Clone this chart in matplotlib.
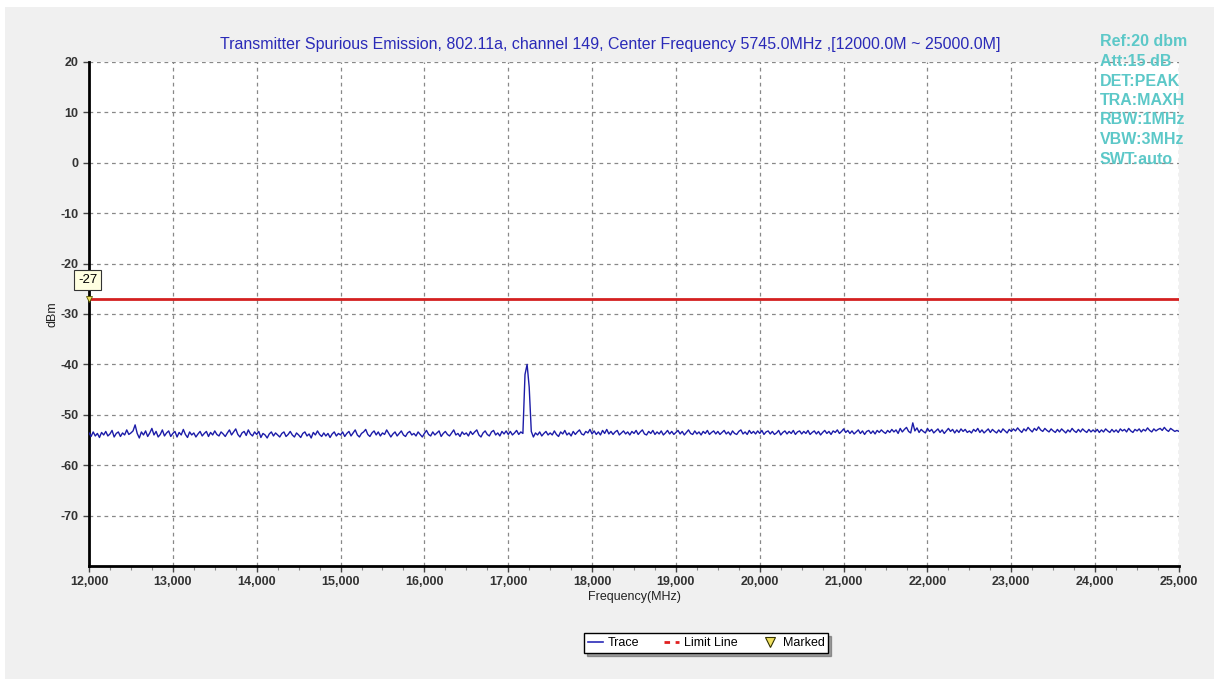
import matplotlib
matplotlib.use('Agg')
from matplotlib import pyplot as plt
from matplotlib.lines import Line2D
from matplotlib.patches import Rectangle
from matplotlib.ticker import MultipleLocator, FuncFormatter
import numpy as np

plt.rcParams['font.family'] = ['Liberation Sans', 'DejaVu Sans']
plt.rcParams['axes.unicode_minus'] = False

# sweep: 12000 ~ 25000 MHz, 25 MHz per point
f_start, f_stop, f_step = 12000.0, 25000.0, 25.0

# trace levels (dBm), one row per 500 MHz
trace_rows = [
    [-53.6, -54.3, -53.4, -54.2, -53.7, -54.5, -53.5, -54.0, -53.3, -54.2, -53.8, -53.1, -54.4, -53.7, -53.4, -54.3, -53.6, -54.0, -53.0, -53.9],
    [-53.6, -53.2, -52.0, -53.7, -54.6, -53.4, -54.0, -53.2, -54.3, -53.6, -52.7, -54.0, -53.3, -54.4, -53.9, -53.0, -54.2, -53.6, -53.2, -54.3],
    [-53.7, -53.3, -54.4, -53.5, -54.0, -52.9, -53.9, -54.5, -53.4, -54.0, -53.6, -54.4, -53.8, -53.3, -54.2, -53.7, -53.3, -54.3, -53.5, -54.0],
    [-53.2, -53.9, -54.2, -53.4, -53.8, -54.3, -53.6, -53.0, -54.0, -53.4, -52.8, -53.9, -54.4, -53.6, -53.3, -54.1, -53.0, -53.8, -54.2, -53.4],
    [-53.9, -53.3, -54.5, -53.7, -54.0, -54.6, -53.8, -53.4, -54.2, -53.6, -54.0, -54.4, -53.7, -53.4, -54.3, -53.9, -53.3, -54.0, -54.4, -53.6],
    [-54.0, -54.5, -53.7, -53.4, -54.2, -53.8, -54.6, -53.5, -54.0, -53.2, -53.9, -54.3, -53.6, -54.2, -53.7, -54.5, -53.8, -53.4, -54.2, -53.7],
    [-54.0, -53.4, -54.3, -53.7, -53.3, -54.2, -53.6, -53.0, -54.0, -54.4, -53.7, -53.4, -52.9, -53.9, -54.3, -53.6, -53.2, -54.0, -53.4, -54.2],
    [-53.6, -53.9, -53.0, -53.7, -54.4, -53.8, -53.4, -54.2, -53.7, -53.2, -54.0, -54.3, -53.6, -53.3, -54.0, -53.7, -54.2, -53.4, -53.9, -54.4],
    [-53.7, -53.1, -53.9, -54.2, -53.4, -54.0, -53.6, -53.2, -54.3, -53.7, -53.3, -53.9, -54.2, -53.6, -53.0, -54.0, -53.7, -54.3, -53.4, -53.9],
    [-53.6, -54.2, -53.3, -53.9, -53.4, -53.0, -54.0, -54.4, -53.6, -53.2, -53.9, -54.2, -53.4, -53.1, -54.0, -53.6, -54.2, -53.3, -53.8, -53.2],
    [-53.9, -53.3, -54.0, -53.6, -53.1, -53.9, -53.4, -53.7, -42.0, -40.0, -44.5, -53.3, -54.4, -53.6, -54.0, -53.4, -54.2, -53.7, -53.3, -54.0],
    [-53.6, -54.0, -53.2, -53.9, -54.3, -53.4, -53.8, -53.1, -54.0, -53.6, -54.2, -53.3, -53.9, -53.4, -53.0, -53.8, -54.0, -53.3, -53.6, -52.9],
    [-53.8, -53.2, -53.9, -53.4, -54.0, -53.1, -53.7, -52.9, -53.8, -53.3, -53.9, -53.4, -53.1, -54.0, -53.6, -53.2, -53.8, -53.4, -54.0, -53.3],
    [-53.7, -53.1, -53.9, -53.4, -53.0, -53.8, -54.0, -53.3, -53.7, -53.1, -53.9, -53.4, -53.8, -53.2, -54.0, -53.6, -53.1, -53.8, -53.3, -53.9],
    [-53.5, -53.1, -53.8, -53.3, -54.0, -53.5, -53.0, -53.7, -53.9, -53.2, -53.8, -53.4, -54.0, -53.3, -53.7, -53.1, -53.9, -53.5, -53.2, -53.8],
    [-53.3, -53.9, -53.5, -53.1, -53.8, -53.4, -54.0, -53.2, -53.7, -53.9, -53.3, -53.0, -53.8, -53.4, -53.9, -53.1, -53.7, -53.3, -53.8, -53.2],
    [-53.7, -53.1, -53.9, -53.4, -53.2, -53.8, -53.3, -53.9, -53.6, -53.1, -54.0, -53.5, -53.2, -53.8, -53.3, -53.7, -53.1, -53.9, -53.4, -53.2],
    [-53.8, -53.3, -53.7, -53.1, -53.9, -53.5, -53.2, -53.8, -53.3, -54.0, -53.5, -53.1, -53.7, -53.3, -53.9, -53.2, -53.5, -53.0, -53.7, -53.3],
    [-52.8, -53.5, -53.1, -53.7, -53.2, -53.8, -53.4, -53.0, -53.7, -53.2, -53.9, -53.3, -53.1, -53.7, -53.2, -53.8, -53.1, -53.5, -53.0, -53.4],
    [-53.7, -53.1, -53.5, -52.9, -53.4, -53.0, -53.7, -52.7, -53.4, -52.9, -52.5, -53.3, -53.6, -51.6, -53.2, -52.6, -53.5, -52.9, -53.3, -53.6],
    [-52.7, -53.3, -52.9, -53.6, -53.2, -52.8, -53.5, -53.0, -53.7, -53.2, -52.7, -53.3, -52.9, -53.6, -53.0, -53.5, -52.8, -53.3, -52.9, -53.5],
    [-53.2, -53.6, -52.9, -53.3, -52.7, -53.5, -53.0, -53.6, -53.2, -52.8, -53.5, -52.9, -53.3, -53.6, -53.0, -53.5, -52.8, -53.2, -53.6, -52.9],
    [-53.3, -52.8, -53.2, -52.6, -53.1, -53.5, -52.8, -53.2, -52.5, -53.0, -53.4, -52.7, -53.1, -52.4, -53.0, -53.3, -52.7, -53.1, -53.4, -52.8],
    [-53.2, -53.5, -52.9, -53.4, -52.8, -53.2, -53.6, -53.0, -53.4, -52.7, -53.2, -53.5, -52.9, -53.4, -52.8, -53.2, -53.5, -52.9, -53.4, -53.0],
    [-53.4, -52.9, -53.5, -53.0, -53.4, -52.8, -53.2, -53.5, -52.9, -53.4, -53.0, -53.5, -52.8, -53.2, -52.9, -53.4, -52.7, -53.2, -53.5, -52.9],
    [-53.2, -52.8, -53.4, -52.9, -53.2, -52.6, -53.1, -53.4, -52.8, -53.2, -52.9, -52.7, -53.1, -52.5, -53.0, -53.3, -52.7, -53.0, -53.3, -53.1],
    [-53.3],
]

limit_level = -27
marker_freq = 12000
title_text = "Transmitter Spurious Emission, 802.11a, channel 149, Center Frequency 5745.0MHz ,[12000.0M ~ 25000.0M]"
info_lines = ["Ref:20 dbm", "Att:15 dB", "DET:PEAK", "TRA:MAXH", "RBW:1MHz", "VBW:3MHz", "SWT:auto"]

levels = np.array([v for row in trace_rows for v in row])
freqs = np.arange(f_start, f_stop + f_step / 2, f_step)

W, H = 1214, 679
fig = plt.figure(figsize=(W / 100, H / 100), dpi=100, facecolor='white')
fig.patches.append(Rectangle((5 / W, 0), 1, 1 - 7 / H, transform=fig.transFigure,
                             facecolor='#f0f0f0', edgecolor='none', zorder=-10))

ax = fig.add_axes([89 / W, 1 - 566 / H, (1179 - 89) / W, (566 - 62) / H])
ax.set_facecolor('white')

ax.plot(freqs, levels, color='#1c1ca8', lw=1.0, zorder=3)
ax.axhline(limit_level, color='#d42020', lw=2, zorder=4)
ax.plot([marker_freq], [limit_level], marker='v', ms=5, color='#f0e060',
        markeredgecolor='#555500', markeredgewidth=0.6, zorder=5, clip_on=False)
ax.annotate(str(limit_level), xy=(marker_freq, limit_level), xytext=(-1, 9),
            textcoords='offset points', ha='center', va='bottom', fontsize=9.5,
            bbox=dict(boxstyle='square,pad=0.3', fc='#ffffe1', ec='#333333', lw=0.8),
            zorder=6, annotation_clip=False)

ax.set_xlim(f_start, f_stop)
ax.set_ylim(-80, 20)
ax.set_xticks(np.arange(12000, 25001, 1000))
ax.xaxis.set_minor_locator(MultipleLocator(250))
ax.set_yticks(np.arange(-70, 21, 10))
ax.xaxis.set_major_formatter(FuncFormatter(lambda v, p: format(int(v), ',')))

ax.grid(True, which='major', color='#888888', lw=0.9, ls=(0, (3, 3)))
ax.set_axisbelow(True)
for s in ['top', 'right']:
    ax.spines[s].set_visible(False)
for s in ['left', 'bottom']:
    ax.spines[s].set_linewidth(2)
    ax.spines[s].set_color('black')

ax.tick_params(axis='both', which='major', labelsize=9, labelcolor='#333333',
               length=4, width=1, color='#444444')
ax.tick_params(axis='x', which='minor', length=3, width=0.8, color='#888888')
for lab in ax.get_xticklabels() + ax.get_yticklabels():
    lab.set_fontweight('bold')

ax.set_xlabel("Frequency(MHz)", fontsize=9, color='#222222', labelpad=2)
ax.set_ylabel("dBm", fontsize=9, color='#222222', labelpad=1)

fig.text(610 / W, 1 - 44 / H, title_text, ha='center', va='center',
         fontsize=11.5, color='#2a2ab8')

for i, line in enumerate(info_lines):
    fig.text(1100 / W, 1 - (42 + i * 19.5) / H, line, ha='left', va='center',
             fontsize=11.5, color='#5cc8c8', fontweight='bold')

handles = [
    Line2D([], [], color='#2a2ab8', lw=1.2),
    Line2D([], [], color='#e02020', lw=2, ls=(0, (2, 2))),
    Line2D([], [], color='#f0e060', marker='v', ls='none', ms=7,
           markeredgecolor='#333300', markeredgewidth=0.8),
]
leg = fig.legend(handles, ["Trace", "Limit Line", "Marked"], loc='center',
                 bbox_to_anchor=(706 / W, 1 - 643 / H), ncol=3, fontsize=9,
                 frameon=True, fancybox=False, shadow=True, edgecolor='black',
                 handlelength=1.2, handletextpad=0.4, columnspacing=2.0,
                 borderpad=0.3)
leg.get_frame().set_linewidth(1.0)

plt.savefig("out.png", dpi=100, facecolor=fig.get_facecolor())
